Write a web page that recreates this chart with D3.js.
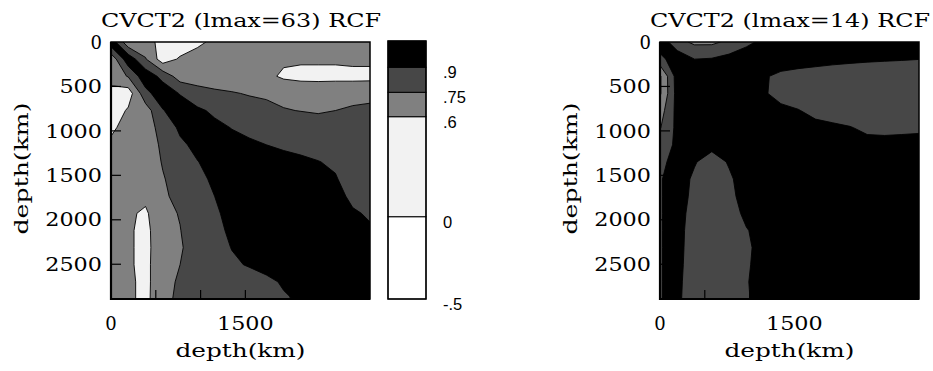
<!DOCTYPE html>
<html>
<head>
<meta charset="utf-8">
<script src="https://cdn.jsdelivr.net/npm/d3@7"></script>
<style>
  body { margin: 0; background: #fff; }
</style>
</head>
<body>
<div id="chart"></div>
<script>
// Depth nodes (km) of the sampled RCF grid, surface to CMB
const depthNodes = [0, 193, 385, 578, 771, 964, 1156, 1349, 1542, 1735, 1927, 2120, 2313, 2506, 2698, 2891];

// Contour levels and legend
const levels = [-0.5, 0, 0.6, 0.75, 0.9, 1.0];
const levelLabels = ["-.5", "0", ".6", ".75", ".9"];
const bandColours = ["#ffffff", "#f2f2f2", "#808080", "#474747", "#000000"];

// Axis ticks
const xTickLabels = [0, 1500];
const yTickLabels = [0, 500, 1000, 1500, 2000, 2500];
const tickMarks = [500, 1000, 1500, 2000, 2500];

// Panel titles
const titles = ["CVCT2 (lmax=63) RCF", "CVCT2 (lmax=14) RCF"];

// RCF, rows = depth (vertical), columns = depth (horizontal)
const rcfLmax63 = [
  [1.00, 0.64, 0.66, 0.55, 0.50, 0.57, 0.63, 0.66, 0.68, 0.68, 0.68, 0.68, 0.68, 0.67, 0.67, 0.66],
  [0.64, 1.00, 0.76, 0.52, 0.62, 0.66, 0.66, 0.67, 0.66, 0.64, 0.62, 0.62, 0.62, 0.62, 0.63, 0.63],
  [0.66, 0.76, 1.00, 0.85, 0.68, 0.70, 0.66, 0.66, 0.67, 0.63, 0.58, 0.56, 0.56, 0.56, 0.56, 0.56],
  [0.55, 0.52, 0.85, 1.00, 0.89, 0.79, 0.78, 0.76, 0.74, 0.71, 0.70, 0.70, 0.69, 0.70, 0.70, 0.71],
  [0.50, 0.62, 0.68, 0.89, 1.00, 0.93, 0.87, 0.84, 0.81, 0.82, 0.76, 0.745, 0.73, 0.75, 0.77, 0.78],
  [0.57, 0.66, 0.70, 0.79, 0.93, 1.00, 0.94, 0.895, 0.87, 0.87, 0.86, 0.85, 0.84, 0.83, 0.82, 0.83],
  [0.63, 0.66, 0.66, 0.78, 0.87, 0.94, 1.00, 0.95, 0.92, 0.90, 0.89, 0.885, 0.875, 0.86, 0.85, 0.85],
  [0.66, 0.67, 0.66, 0.76, 0.84, 0.895, 0.95, 1.00, 0.95, 0.93, 0.92, 0.91, 0.902, 0.89, 0.86, 0.86],
  [0.68, 0.66, 0.67, 0.74, 0.81, 0.87, 0.92, 0.95, 1.00, 0.96, 0.93, 0.92, 0.915, 0.905, 0.87, 0.87],
  [0.68, 0.64, 0.63, 0.71, 0.82, 0.87, 0.90, 0.93, 0.96, 1.00, 0.96, 0.94, 0.93, 0.915, 0.89, 0.88],
  [0.68, 0.62, 0.58, 0.70, 0.76, 0.86, 0.89, 0.92, 0.93, 0.96, 1.00, 0.96, 0.95, 0.93, 0.905, 0.895],
  [0.68, 0.62, 0.56, 0.70, 0.745, 0.85, 0.885, 0.91, 0.92, 0.94, 0.96, 1.00, 0.96, 0.95, 0.92, 0.905],
  [0.68, 0.62, 0.56, 0.69, 0.73, 0.84, 0.875, 0.902, 0.915, 0.93, 0.95, 0.96, 1.00, 0.96, 0.94, 0.92],
  [0.67, 0.62, 0.56, 0.70, 0.75, 0.83, 0.86, 0.89, 0.905, 0.915, 0.93, 0.95, 0.96, 1.00, 0.96, 0.94],
  [0.67, 0.63, 0.56, 0.70, 0.77, 0.82, 0.85, 0.86, 0.87, 0.89, 0.905, 0.92, 0.94, 0.96, 1.00, 0.96],
  [0.66, 0.63, 0.56, 0.71, 0.78, 0.83, 0.85, 0.86, 0.87, 0.88, 0.895, 0.905, 0.92, 0.94, 0.96, 1.00]
];

const rcfLmax14 = [
  [1.00, 0.80, 0.72, 0.72, 0.78, 0.88, 0.92, 0.93, 0.94, 0.94, 0.94, 0.93, 0.93, 0.92, 0.92, 0.91],
  [0.85, 1.00, 0.90, 0.91, 0.95, 0.95, 0.95, 0.95, 0.95, 0.94, 0.93, 0.92, 0.915, 0.91, 0.905, 0.901],
  [0.58, 0.97, 1.00, 0.97, 0.96, 0.95, 0.91, 0.88, 0.86, 0.85, 0.84, 0.84, 0.83, 0.83, 0.84, 0.84],
  [0.58, 0.96, 0.97, 1.00, 0.97, 0.95, 0.91, 0.87, 0.84, 0.83, 0.82, 0.82, 0.80, 0.80, 0.82, 0.82],
  [0.68, 0.95, 0.96, 0.97, 1.00, 0.97, 0.95, 0.92, 0.905, 0.87, 0.85, 0.84, 0.82, 0.82, 0.83, 0.83],
  [0.74, 0.94, 0.95, 0.96, 0.97, 1.00, 0.97, 0.95, 0.94, 0.93, 0.92, 0.905, 0.88, 0.875, 0.88, 0.885],
  [0.82, 0.93, 0.92, 0.92, 0.93, 0.96, 1.00, 0.97, 0.96, 0.95, 0.95, 0.94, 0.93, 0.93, 0.93, 0.93],
  [0.88, 0.93, 0.905, 0.87, 0.906, 0.94, 0.97, 1.00, 0.97, 0.96, 0.95, 0.95, 0.95, 0.95, 0.95, 0.95],
  [0.895, 0.93, 0.889, 0.85, 0.89, 0.93, 0.95, 0.97, 1.00, 0.97, 0.96, 0.95, 0.95, 0.95, 0.95, 0.95],
  [0.895, 0.93, 0.883, 0.84, 0.88, 0.93, 0.95, 0.96, 0.97, 1.00, 0.97, 0.96, 0.95, 0.95, 0.95, 0.95],
  [0.895, 0.93, 0.87, 0.83, 0.86, 0.92, 0.94, 0.95, 0.96, 0.97, 1.00, 0.97, 0.96, 0.95, 0.95, 0.95],
  [0.895, 0.93, 0.859, 0.82, 0.85, 0.895, 0.93, 0.95, 0.95, 0.96, 0.97, 1.00, 0.97, 0.96, 0.95, 0.95],
  [0.895, 0.93, 0.853, 0.81, 0.84, 0.885, 0.93, 0.94, 0.95, 0.95, 0.96, 0.97, 1.00, 0.97, 0.96, 0.95],
  [0.895, 0.93, 0.844, 0.80, 0.84, 0.89, 0.93, 0.94, 0.95, 0.95, 0.95, 0.96, 0.97, 1.00, 0.97, 0.96],
  [0.895, 0.93, 0.828, 0.80, 0.845, 0.895, 0.93, 0.94, 0.95, 0.95, 0.95, 0.95, 0.96, 0.97, 1.00, 0.97],
  [0.895, 0.93, 0.812, 0.80, 0.85, 0.892, 0.93, 0.94, 0.95, 0.95, 0.95, 0.95, 0.95, 0.96, 0.97, 1.00]
];

const width = 933, height = 371;
const plotTop = 42, plotBottom = 299, plotSize = 259;
const serif = "'DejaVu Serif', serif";
const sans = "'Liberation Sans', Arial, sans-serif";

const svg = d3.select("#chart")
  .append("svg")
  .attr("width", width)
  .attr("height", height)
  .attr("viewBox", `0 0 ${width} ${height}`);

const maxDepth = depthNodes[depthNodes.length - 1];

function drawPanel(left, grid, title, id, yLabelX) {
  const n = depthNodes.length;
  const x = d3.scaleLinear().domain([0, maxDepth]).range([left, left + plotSize]);
  const y = d3.scaleLinear().domain([0, maxDepth]).range([plotTop, plotBottom]);

  // contour space puts sample k at k + 0.5
  const gx = d3.scaleLinear().domain([0.5, n - 0.5]).range([x(depthNodes[0]), x(maxDepth)]);
  const gy = d3.scaleLinear().domain([0.5, n - 0.5]).range([y(depthNodes[0]), y(maxDepth)]);
  const path = d3.geoPath(d3.geoTransform({
    point(px, py) { this.stream.point(gx(px), gy(py)); }
  }));

  svg.append("clipPath").attr("id", id)
    .append("rect")
    .attr("x", left).attr("y", plotTop)
    .attr("width", plotSize).attr("height", plotBottom - plotTop);

  // d3 splits high saddles, so contour the regions *below* each level
  // (on -rcf) to keep the diagonal band in one piece; paint top band first
  const cuts = levels.slice(1, -1).reverse();          // .9 .75 .6 0
  const cutColours = bandColours.slice(0, -1).reverse(); // dark, mid, light, white
  const below = d3.contours()
    .size([n, n])
    .thresholds(cuts.map(c => -c))(grid.flat().map(v => -v));

  const g = svg.append("g").attr("clip-path", `url(#${id})`);
  g.append("rect")
    .attr("x", left).attr("y", plotTop)
    .attr("width", plotSize).attr("height", plotBottom - plotTop)
    .attr("fill", bandColours[bandColours.length - 1]);
  g.selectAll("path")
    .data(below)
    .join("path")
    .attr("d", path)
    .attr("fill", (d, i) => cutColours[i])
    .attr("stroke", "#000")
    .attr("stroke-width", 0.9)
    .attr("stroke-linejoin", "round");

  // ticks pointing inwards on left and bottom
  const ticks = svg.append("g").attr("stroke", "#000").attr("stroke-width", 1.2);
  ticks.selectAll(".ty").data(tickMarks).join("line")
    .attr("x1", left).attr("x2", left + 10)
    .attr("y1", d => y(d)).attr("y2", d => y(d));
  ticks.selectAll(".tx").data(tickMarks).join("line")
    .attr("x1", d => x(d)).attr("x2", d => x(d))
    .attr("y1", plotBottom).attr("y2", plotBottom - 9);

  // frame
  svg.append("rect")
    .attr("x", left).attr("y", plotTop)
    .attr("width", plotSize).attr("height", plotBottom - plotTop)
    .attr("fill", "none").attr("stroke", "#000").attr("stroke-width", 1.5);
  svg.append("path")
    .attr("d", `M${left},${plotTop}V${plotBottom}H${left + plotSize}`)
    .attr("fill", "none").attr("stroke", "#000").attr("stroke-width", 2.2);

  // tick labels
  svg.append("g").selectAll("text").data(yTickLabels).join("text")
    .attr("x", left - 9)
    .attr("y", d => y(d) + 6.7)
    .attr("text-anchor", "end")
    .attr("font-family", serif).attr("font-size", 18)
    .attr("textLength", d => String(d).length > 1 ? String(d).length * 14.2 : null)
    .attr("lengthAdjust", "spacingAndGlyphs")
    .text(d => d);

  svg.append("g").selectAll("text").data(xTickLabels).join("text")
    .attr("x", d => x(d))
    .attr("y", 330)
    .attr("text-anchor", "middle")
    .attr("font-family", serif).attr("font-size", 18)
    .attr("textLength", d => String(d).length > 1 ? String(d).length * 14.2 : null)
    .attr("lengthAdjust", "spacingAndGlyphs")
    .text(d => d);

  // title and axis titles
  svg.append("text")
    .attr("x", left - 10).attr("y", 27)
    .attr("font-family", serif).attr("font-size", 18)
    .attr("textLength", 280).attr("lengthAdjust", "spacingAndGlyphs")
    .text(title);

  svg.append("text")
    .attr("x", left + plotSize / 2).attr("y", 357)
    .attr("text-anchor", "middle")
    .attr("font-family", serif).attr("font-size", 18)
    .attr("textLength", 130).attr("lengthAdjust", "spacingAndGlyphs")
    .text("depth(km)");

  svg.append("text")
    .attr("transform", `translate(${yLabelX},${(plotTop + plotBottom) / 2 - 2}) rotate(-90)`)
    .attr("text-anchor", "middle")
    .attr("font-family", serif).attr("font-size", 18)
    .attr("textLength", 132).attr("lengthAdjust", "spacingAndGlyphs")
    .text("depth(km)");
}

drawPanel(111, rcfLmax63, titles[0], "clipL", 27.5);
drawPanel(660, rcfLmax14, titles[1], "clipR", 577);

// colour bar: uneven steps as drawn in the original
const barLeft = 388, barWidth = 38;
const yBar = d3.scaleLinear().domain(levels).range([299, 216.7, 116.7, 92.3, 67.3, 41]);

const bar = svg.append("g");
bar.selectAll("rect").data(bandColours).join("rect")
  .attr("x", barLeft)
  .attr("y", (d, i) => yBar(levels[i + 1]))
  .attr("width", barWidth)
  .attr("height", (d, i) => yBar(levels[i]) - yBar(levels[i + 1]))
  .attr("fill", d => d)
  .attr("stroke", "#000")
  .attr("stroke-width", 1);
bar.append("rect")
  .attr("x", barLeft).attr("y", yBar(1))
  .attr("width", barWidth).attr("height", yBar(-0.5) - yBar(1))
  .attr("fill", "none").attr("stroke", "#000").attr("stroke-width", 1.4);

bar.selectAll("text").data(levelLabels).join("text")
  .attr("x", barLeft + 55)
  .attr("y", (d, i) => yBar(levels[i]) + 11)
  .attr("font-family", sans).attr("font-size", 16.5)
  .text(d => d);
</script>
</body>
</html>
